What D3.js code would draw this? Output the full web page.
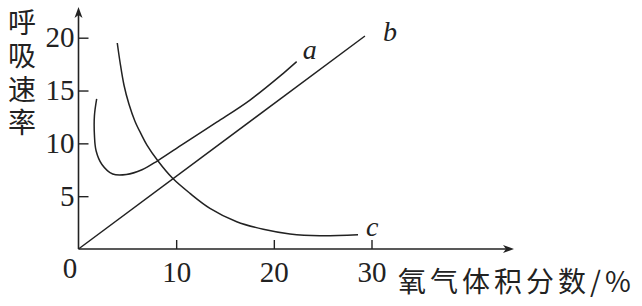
<!DOCTYPE html>
<html lang="zh">
<head>
<meta charset="utf-8">
<title>呼吸速率</title>
<script src="https://d3js.org/d3.v7.min.js"></script>
<style>
  body { margin: 0; background: #fff; }
  svg { display: block; }
  .num { font-family: "Liberation Serif", "DejaVu Serif", serif; font-size: 29px; fill: #222; }
  .cjk { font-family: "Noto Sans CJK SC", sans-serif; fill: #222; }
  .lbl { font-family: "Liberation Serif", serif; font-style: italic; font-size: 28px; fill: #222; }
</style>
</head>
<body>
<script>
// values
const xTicks = [10, 20, 30];
const yTicks = [5, 10, 15, 20];
const yTitle = "呼吸速率";
const xTitle = "氧气体积分数/%";
const seriesNames = ["a", "b", "c"];

const aX = [1.86, 1.63, 1.63, 1.8, 2.4, 3.5, 4.9, 6.5, 8.1, 10.73, 14.15, 17.56, 20.97, 22.34];
const aY = [14.2, 12.6, 10.8, 9.3, 8.0, 7.1, 7.05, 7.5, 8.35, 9.95, 12.0, 14.1, 16.63, 17.73];
const bX = [0, 29.33];
const bY = [0, 20.16];
const cX = [3.97, 4.25, 4.66, 5.17, 5.78, 6.4, 7.01, 8.14, 9.64, 11.41, 13.46, 16.2, 18.92, 21.65, 24.72, 28.62];
const cY = [19.5, 17.7, 15.5, 13.7, 12.1, 10.9, 9.84, 8.33, 6.69, 5.27, 3.85, 2.58, 1.86, 1.42, 1.25, 1.35];

const width = 642, height = 306;
const svg = d3.select("body").append("svg")
  .attr("width", width).attr("height", height);

const x = d3.scaleLinear().domain([0, 30]).range([78.5, 371.5]);
const y = d3.scaleLinear().domain([0, 20]).range([249, 37.7]);
const ink = "#222";

// axes (ticks point inward)
svg.append("g")
  .attr("transform", `translate(0,${y(0)})`)
  .call(d3.axisBottom(x).tickValues(xTicks).tickSizeInner(-9).tickSizeOuter(0).tickPadding(12))
  .call(g => g.select(".domain").remove())
  .call(g => g.selectAll("line").attr("stroke", ink).attr("stroke-width", 1.4))
  .call(g => g.selectAll("text").attr("class", "num").attr("font-size", null).attr("font-family", null));

svg.append("g")
  .attr("transform", `translate(${x(0)},0)`)
  .call(d3.axisLeft(y).tickValues(yTicks).tickSizeInner(-10).tickSizeOuter(0).tickPadding(4))
  .call(g => g.select(".domain").remove())
  .call(g => g.selectAll("line").attr("stroke", ink).attr("stroke-width", 1.4))
  .call(g => g.selectAll("text").attr("class", "num").attr("font-size", null).attr("font-family", null));

// axis lines with arrow heads
svg.append("line").attr("x1", x(0)).attr("y1", y(0)).attr("x2", x(0)).attr("y2", 12)
  .attr("stroke", ink).attr("stroke-width", 1.6);
svg.append("path").attr("d", `M${x(0)},7 L${x(0) - 4},18 L${x(0)},15 L${x(0) + 4},18 Z`).attr("fill", ink);
svg.append("line").attr("x1", x(0)).attr("y1", y(0)).attr("x2", 508).attr("y2", y(0))
  .attr("stroke", ink).attr("stroke-width", 1.6);
svg.append("path").attr("d", `M514,${y(0)} L503,${y(0) - 4} L506,${y(0)} L503,${y(0) + 4} Z`).attr("fill", ink);

svg.append("text").attr("class", "num").attr("x", 70).attr("y", 278)
  .attr("text-anchor", "middle").text("0");

// titles
svg.append("text").attr("class", "cjk").attr("font-size", 28)
  .attr("x", 22).attr("y", 8)
  .style("writing-mode", "vertical-rl")
  .attr("letter-spacing", 5.5)
  .text(yTitle);

svg.append("text").attr("class", "cjk").attr("font-size", 28)
  .attr("x", 398).attr("y", 280).attr("dominant-baseline", "central")
  .attr("letter-spacing", 4).text(xTitle);

// curves
const series = [
  { name: seriesNames[0], xs: aX, ys: aY, dx: 6, dy: -3 },
  { name: seriesNames[1], xs: bX, ys: bY, dx: 18, dy: 5 },
  { name: seriesNames[2], xs: cX, ys: cY, dx: 8, dy: 1 }
];

const line = d3.line().x(d => x(d[0])).y(d => y(d[1])).curve(d3.curveCatmullRom.alpha(0.5));

series.forEach(s => {
  const pts = s.xs.map((v, i) => [v, s.ys[i]]);
  svg.append("path").datum(pts)
    .attr("d", line)
    .attr("fill", "none").attr("stroke", ink).attr("stroke-width", 1.5);
  const last = pts[pts.length - 1];
  svg.append("text").attr("class", "lbl")
    .attr("x", x(last[0]) + s.dx).attr("y", y(last[1]) + s.dy)
    .text(s.name);
});
</script>
</body>
</html>
